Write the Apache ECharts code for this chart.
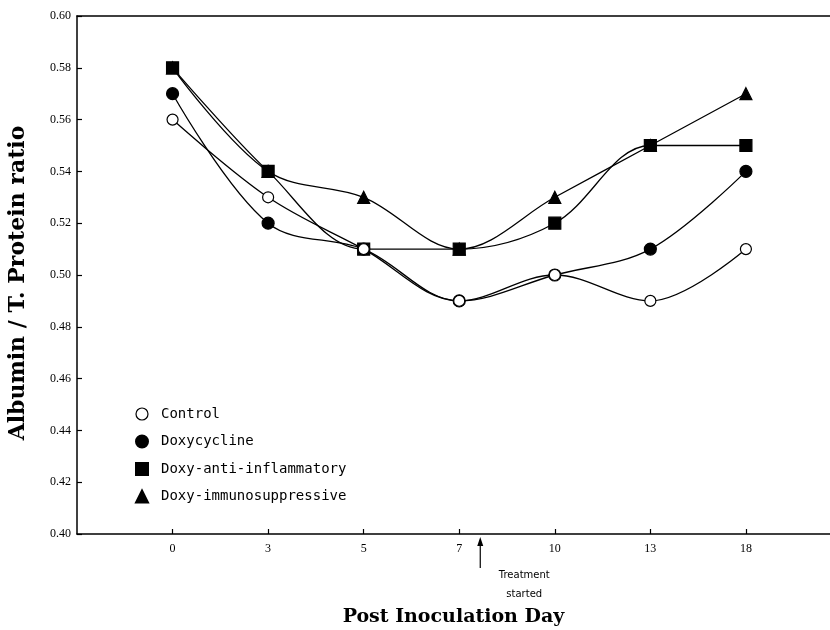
<!DOCTYPE html>
<html>
<head>
<meta charset="utf-8">
<script src="https://cdn.jsdelivr.net/npm/echarts@6/dist/echarts.min.js"></script>
<style>html,body{margin:0;padding:0;background:#fff;}#c{width:830px;height:630px;}</style>
</head>
<body>
<div id="c"></div>
<script>
var dayLabels = ['0', '3', '5', '7', '10', '13', '18'];
var control = [0.56, 0.53, 0.51, 0.49, 0.50, 0.49, 0.51];
var doxycycline = [0.57, 0.52, 0.51, 0.49, 0.50, 0.51, 0.54];
var antiInflammatory = [0.58, 0.54, 0.51, 0.51, 0.52, 0.55, 0.55];
var immunosuppressive = [0.58, 0.54, 0.53, 0.51, 0.53, 0.55, 0.57];
var treatmentPos = 3.22;

function pts(arr) { return arr.map(function (v, i) { return [i, v]; }); }
var idx = dayLabels.map(function (d, i) { return i; });

var chart = echarts.init(document.getElementById('c'));
var serif = 'Liberation Serif';
var titleSerif = 'DejaVu Serif';
var sans = 'DejaVu Sans Mono';

function mkSeries(name, data, symbol, size, fill, z) {
  return {
    name: name, type: 'line', data: pts(data), smooth: 0.35,
    symbol: symbol, symbolSize: size, z: z,
    lineStyle: { color: '#000', width: 1.3 },
    itemStyle: { color: fill, borderColor: '#000', borderWidth: 1.2 },
    emphasis: { disabled: true }
  };
}

chart.setOption({
  animation: false,
  backgroundColor: '#fff',
  grid: { left: 77, top: 16, right: 0, height: 518, show: false, outerBoundsMode: 'none', containLabel: false },
  legend: {
    orient: 'vertical', left: 130, top: 402, itemWidth: 12, itemHeight: 12, itemGap: 13.5,
    textStyle: { fontFamily: sans, fontSize: 14, color: '#000', padding: [0, 0, 0, 8] },
    data: [
      { name: 'Control', icon: 'circle', itemStyle: { color: '#fff', borderColor: '#000', borderWidth: 1.2 } },
      { name: 'Doxycycline', icon: 'circle', itemStyle: { color: '#000' } },
      { name: 'Doxy-anti-inflammatory', icon: 'rect', itemStyle: { color: '#000' } },
      { name: 'Doxy-immunosuppressive', icon: 'triangle', itemStyle: { color: '#000' } }
    ]
  },
  xAxis: [{
    type: 'value', min: -1, max: 6.88, interval: 1,
    name: 'Post Inoculation Day', nameLocation: 'middle', nameGap: 74,
    nameTextStyle: { fontFamily: titleSerif, fontWeight: 'bold', fontSize: 19, color: '#000' },
    axisLine: { lineStyle: { color: '#000', width: 1.5 } },
    axisTick: { inside: true, length: 5, lineStyle: { color: '#000', width: 1.2 }, customValues: idx },
    axisLabel: { customValues: idx, margin: 9, fontFamily: serif, fontSize: 12, color: '#000',
      formatter: function (v) { return dayLabels[Math.round(v)] || ''; } },
    splitLine: { show: false }
  }, {
    type: 'value', position: 'top', min: -1, max: 6.88,
    axisLine: { show: true, onZero: false, lineStyle: { color: '#000', width: 1.5 } },
    axisTick: { show: false }, axisLabel: { show: false }, splitLine: { show: false }
  }],
  yAxis: {
    type: 'value', min: 0.40, max: 0.60, interval: 0.02,
    name: 'Albumin / T. Protein ratio', nameLocation: 'middle', nameGap: 48,
    nameTextStyle: { fontFamily: titleSerif, fontWeight: 'bold', fontSize: 22, color: '#000', padding: [0, 16, 0, 0] },
    axisLine: { show: true, onZero: false, lineStyle: { color: '#000', width: 1.5 } },
    axisTick: { show: true, inside: true, length: 5, lineStyle: { color: '#000', width: 1.2 } },
    axisLabel: { margin: 6, fontFamily: serif, fontSize: 12, color: '#000',
      formatter: function (v) { return v.toFixed(2); } },
    splitLine: { show: false }
  },
  series: [
    mkSeries('Control', control, 'circle', 11, '#fff', 5),
    mkSeries('Doxycycline', doxycycline, 'circle', 12, '#000', 4),
    mkSeries('Doxy-anti-inflammatory', antiInflammatory, 'rect', 12, '#000', 3),
    mkSeries('Doxy-immunosuppressive', immunosuppressive, 'triangle', 12, '#000', 2)
  ]
});

var tip = chart.convertToPixel({ xAxisIndex: 0, yAxisIndex: 0 }, [treatmentPos, 0.40]);
var ax = tip[0], ay = tip[1] + 3;
chart.setOption({
  graphic: [
    { type: 'line', shape: { x1: ax, y1: ay + 3, x2: ax, y2: ay + 31 }, style: { stroke: '#000', lineWidth: 1.2 } },
    { type: 'polygon', shape: { points: [[ax, ay], [ax - 3, ay + 9], [ax + 3, ay + 9]] }, style: { fill: '#000' } },
    { type: 'text', x: ax + 44, y: ay + 38, style: { text: 'Treatment', font: '10px "DejaVu Sans"', fill: '#000', align: 'center', verticalAlign: 'middle' } },
    { type: 'text', x: ax + 44, y: ay + 57, style: { text: 'started', font: '10px "DejaVu Sans"', fill: '#000', align: 'center', verticalAlign: 'middle' } }
  ]
});
</script>
</body>
</html>
